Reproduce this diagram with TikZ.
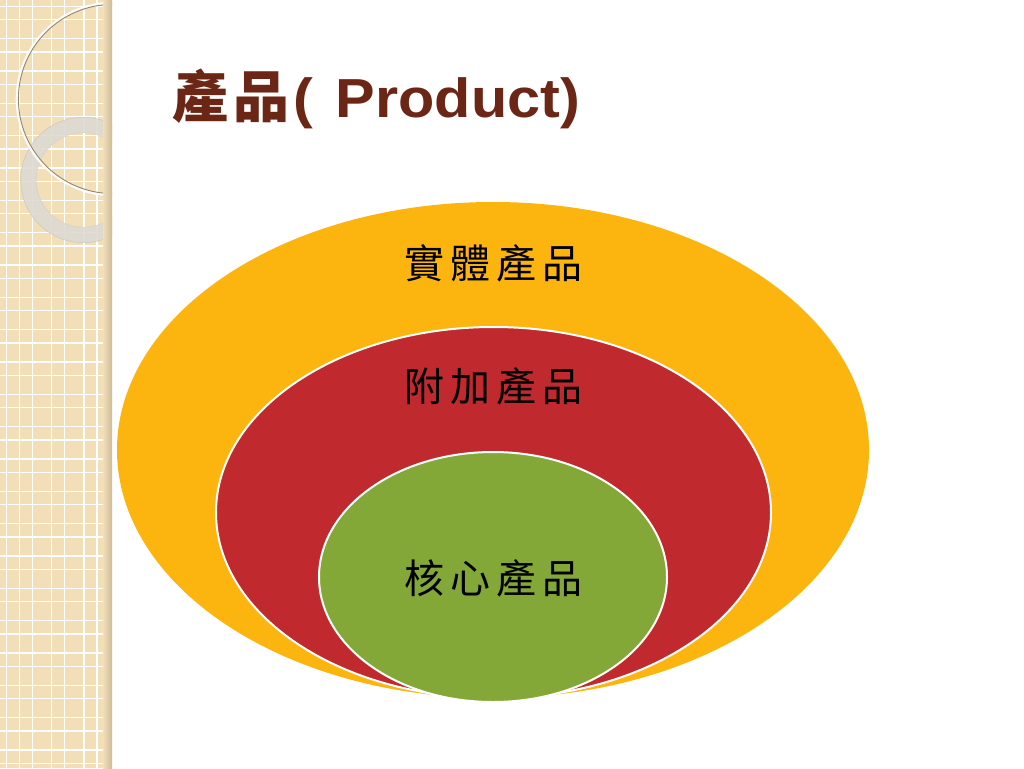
\documentclass[tikz,border=0pt]{standalone}
\usepackage{fontspec}
\setmainfont{Liberation Sans}
\newfontfamily\cjk{Noto Sans CJK TC}
\usetikzlibrary{shapes.geometric}
\definecolor{beige}{HTML}{F2DFB8}
\definecolor{beigedark}{HTML}{CDBB98}
\definecolor{ringgray}{HTML}{DEDAD2}
\definecolor{outeryellow}{HTML}{FCB40F}
\definecolor{midred}{HTML}{C0292D}
\definecolor{innergreen}{HTML}{84A837}
\definecolor{titlebrown}{HTML}{6B2616}
\newcommand{\lsp}{\hspace{6pt}}
\tikzset{
  gridline/.style={white, line width=1.2pt},
  layer/.style={ellipse, inner sep=0pt, draw=none},
  ringed/.style={layer, draw=white, line width=2pt},
  lbl/.style={font=\cjk\fontsize{40}{44}\selectfont, text=black, inner sep=0pt},
  titletxt/.style={anchor=base west, inner sep=0pt}
}
\begin{document}
\begin{tikzpicture}[x=1pt,y=-1pt]
\useasboundingbox (0,0) rectangle (1024,768);
\fill[white] (0,0) rectangle (1024,768);
% left decorative strip
\fill[beige] (0,0) rectangle (112,768);
\foreach \x in {6.3,19.3,32.3,51.7,64.7,84,97} \draw[gridline] (\x,0) -- (\x,768);
\foreach \k in {0,...,23} {
  \draw[gridline] (0,6.3+32.33*\k) -- (112,6.3+32.33*\k);
  \draw[gridline] (0,19.7+32.33*\k) -- (112,19.7+32.33*\k);
}
\begin{scope}
  \clip (0,0) rectangle (112,768);
  \draw[ringgray, opacity=0.9, line width=15.5pt] (83.4,180) circle[radius=55];
  \draw[black!25, line width=0.6pt, opacity=0.6] (83.4,180) circle[radius=62.7];
  \draw[black!20, line width=0.6pt, opacity=0.6] (83.4,180) circle[radius=47.2];
  \draw[white!95!beige, line width=2.6pt] (113,99) circle[radius=96];
  \draw[black!40!beige, line width=0.9pt] (113,99) circle[radius=94.6];
  \shade[left color=beige, right color=beigedark] (103,0) rectangle (112,768);
\end{scope}
% title
\node[titletxt, text=titlebrown] (title) at (172,117) {{\cjk\bfseries\fontsize{56}{60}\selectfont 產\hspace{5pt}品}\hspace{4pt}\scalebox{1.08}[1]{\bfseries\fontsize{55}{60}\selectfont(\hspace{6pt} Product)}};
% nested ellipses
\node[layer, fill=outeryellow, minimum width=752pt, minimum height=496pt] (outer) at (493,450) {};
\node[ringed, fill=midred, minimum width=555pt, minimum height=371pt] (mid) at (493.5,512.5) {};
\node[ringed, fill=innergreen, minimum width=348pt, minimum height=250pt] (inner) at (493,577) {};
% labels
\node[lbl] (l1) at (493,263) {實\lsp 體\lsp 產\lsp 品};
\node[lbl] (l2) at (493,386) {附\lsp 加\lsp 產\lsp 品};
\node[lbl] (l3) at (493,578) {核\lsp 心\lsp 產\lsp 品};
\end{tikzpicture}
\end{document}
